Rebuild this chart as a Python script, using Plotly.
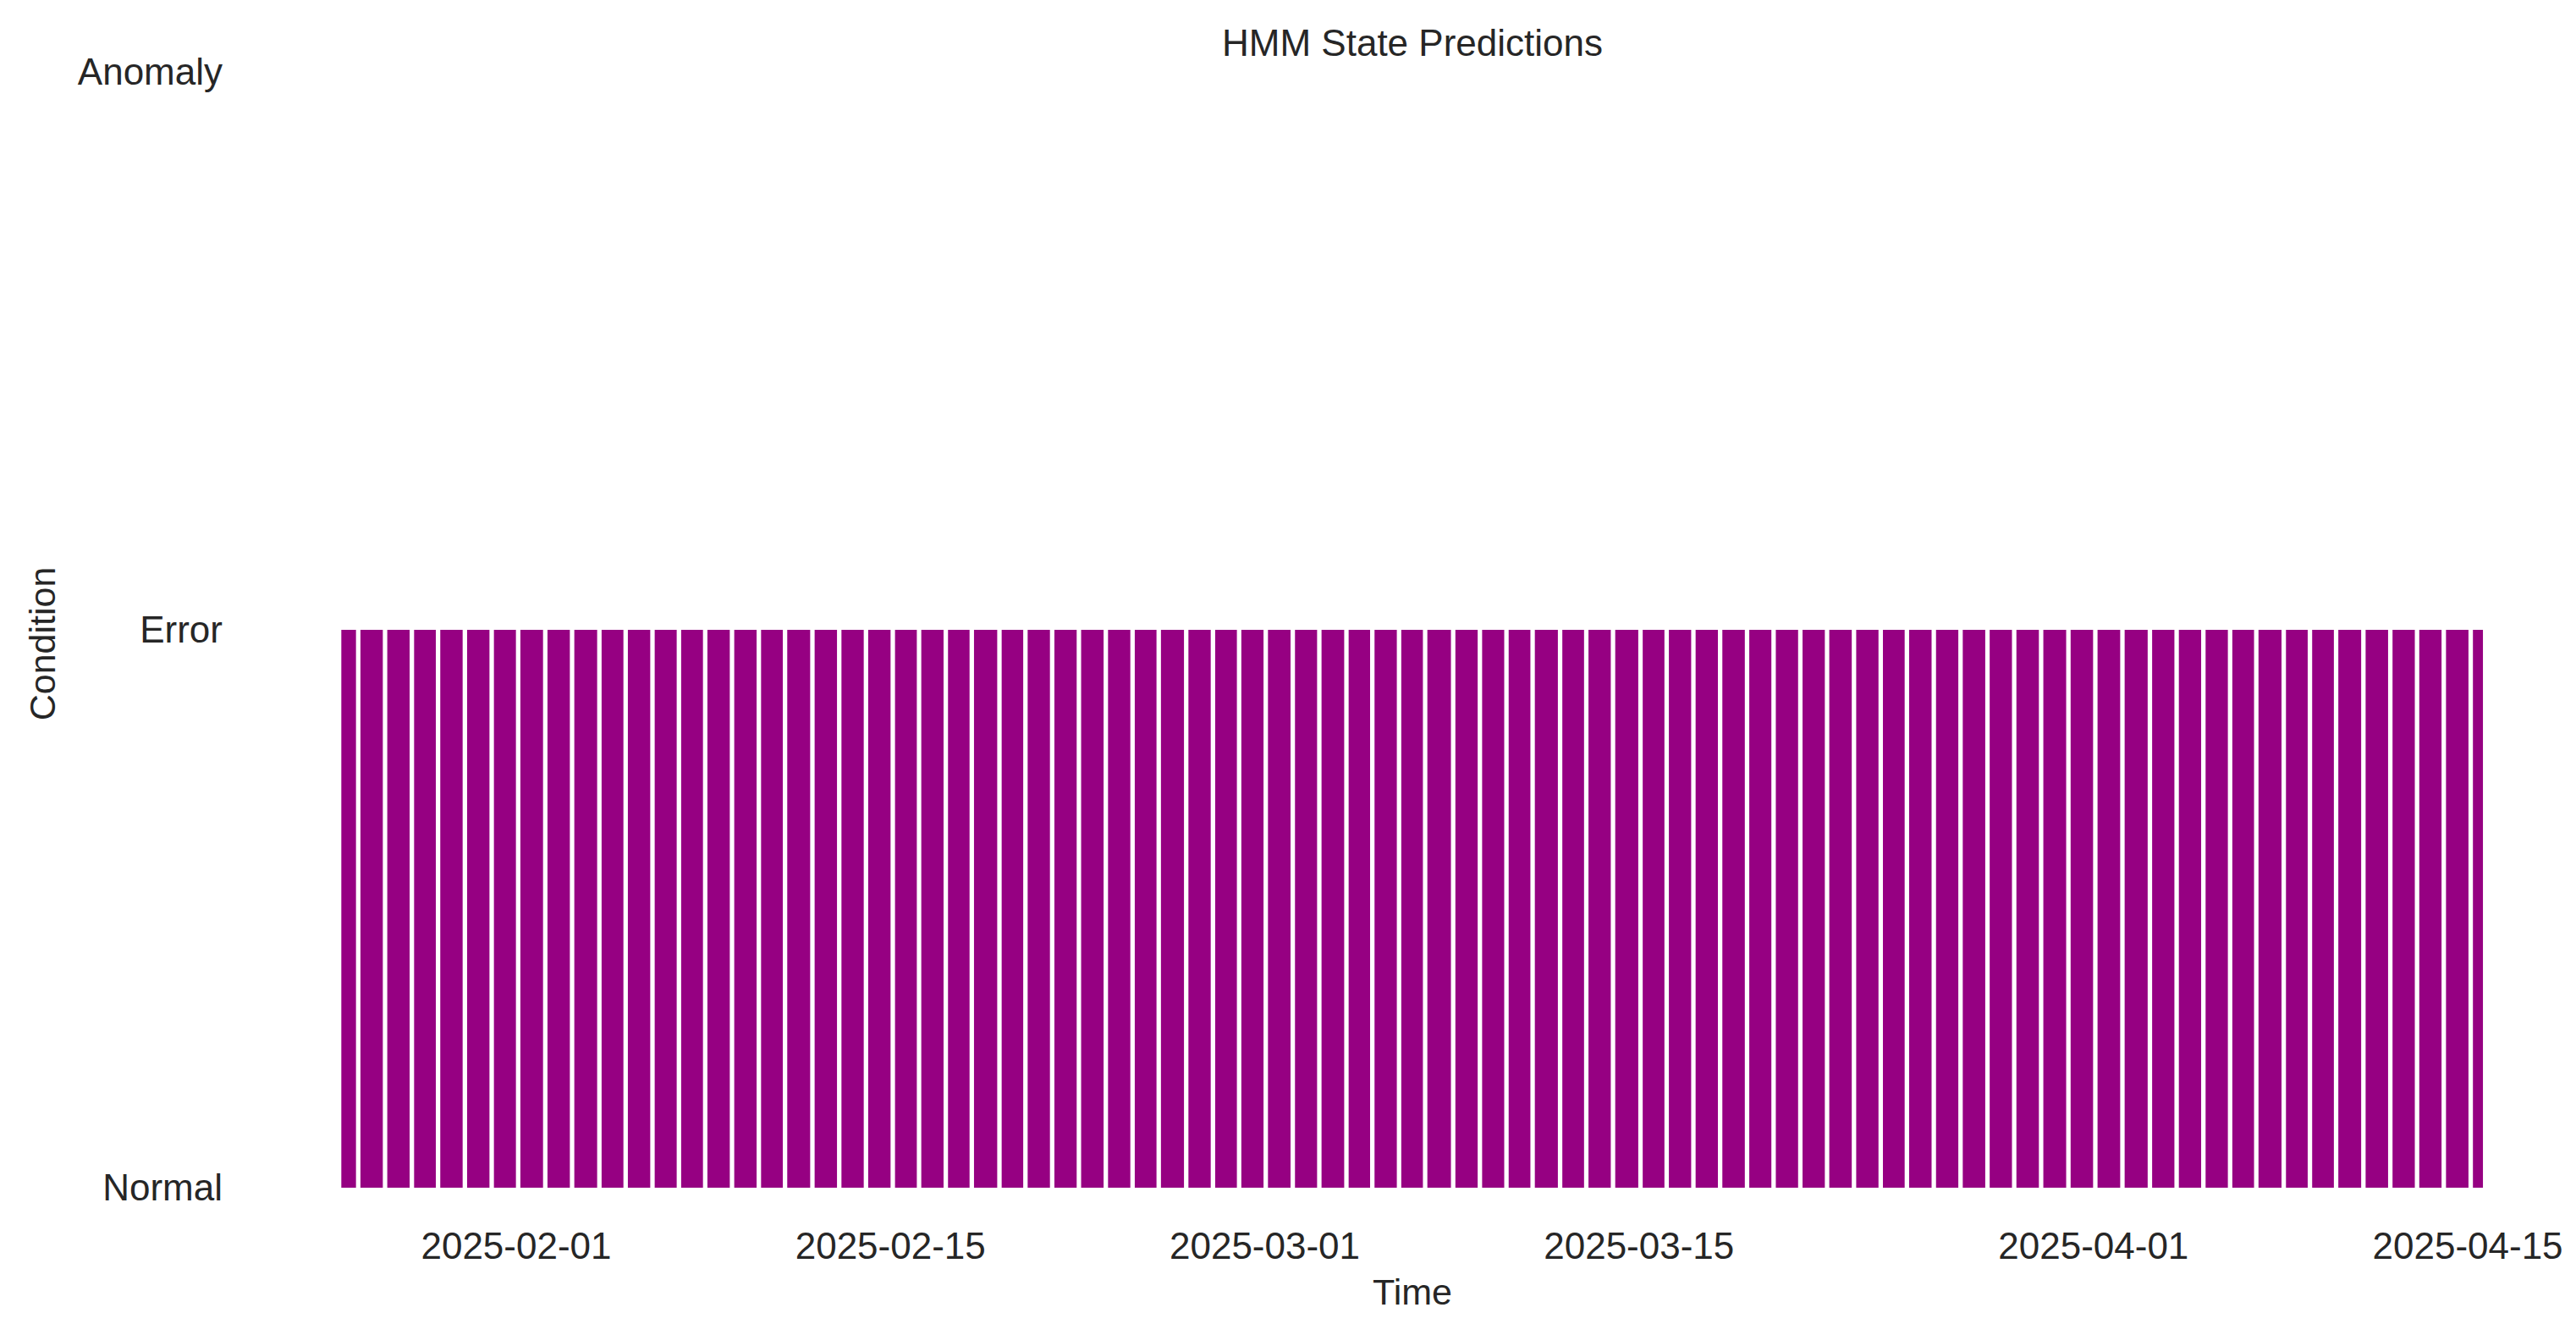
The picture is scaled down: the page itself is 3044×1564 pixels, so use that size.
import plotly.graph_objects as go

# HMM predicted condition over time: 1 = Error, 0 = Normal (2 = Anomaly never occurs)
first_time = "2025-01-25 11:00"
last_time = "2025-04-15 13:40"

# short Normal stretches around each night
normal_start = [
    "2025-01-26 00:10", "2025-01-27 00:15", "2025-01-28 00:20", "2025-01-28 23:50",
    "2025-01-29 23:55", "2025-01-31 00:00", "2025-01-31 23:45", "2025-02-02 00:05",
    "2025-02-03 00:10", "2025-02-04 00:40", "2025-02-05 00:15", "2025-02-06 00:20",
    "2025-02-07 00:05", "2025-02-07 23:40", "2025-02-08 23:45", "2025-02-09 23:50",
    "2025-02-10 23:20", "2025-02-11 23:55", "2025-02-13 00:00", "2025-02-14 00:00",
    "2025-02-15 00:05", "2025-02-15 23:40", "2025-02-16 23:40", "2025-02-17 23:00",
    "2025-02-18 23:50", "2025-02-19 23:10", "2025-02-20 23:10", "2025-02-21 23:10",
    "2025-02-22 23:20", "2025-02-23 23:20", "2025-02-24 22:50", "2025-02-25 23:30",
    "2025-02-26 23:30", "2025-02-27 23:00", "2025-02-28 22:55", "2025-03-01 23:10",
    "2025-03-02 23:00", "2025-03-03 23:20", "2025-03-04 22:35", "2025-03-05 22:35",
    "2025-03-06 22:00", "2025-03-07 23:10", "2025-03-08 23:10", "2025-03-09 23:00",
    "2025-03-10 22:30", "2025-03-11 23:10", "2025-03-12 22:40", "2025-03-13 22:40",
    "2025-03-14 23:20", "2025-03-15 22:50", "2025-03-16 22:50", "2025-03-17 22:50",
    "2025-03-18 23:00", "2025-03-19 22:50", "2025-03-20 22:50", "2025-03-21 22:50",
    "2025-03-22 23:00", "2025-03-23 23:00", "2025-03-24 22:30", "2025-03-25 22:40",
    "2025-03-26 22:40", "2025-03-27 22:50", "2025-03-28 22:50", "2025-03-29 23:00",
    "2025-03-30 23:30", "2025-03-31 23:40", "2025-04-02 00:00", "2025-04-03 00:40",
    "2025-04-04 00:40", "2025-04-05 00:40", "2025-04-06 00:40", "2025-04-07 00:10",
    "2025-04-08 00:50", "2025-04-09 00:20", "2025-04-09 23:50", "2025-04-11 00:20",
    "2025-04-12 00:30", "2025-04-13 00:30", "2025-04-14 00:30", "2025-04-15 00:40",
]
normal_end = [
    "2025-01-26 04:10", "2025-01-27 04:15", "2025-01-28 04:20", "2025-01-29 03:50",
    "2025-01-30 03:55", "2025-01-31 04:00", "2025-02-01 03:45", "2025-02-02 04:05",
    "2025-02-03 04:10", "2025-02-04 04:40", "2025-02-05 04:15", "2025-02-06 04:20",
    "2025-02-07 04:05", "2025-02-08 03:40", "2025-02-09 03:45", "2025-02-10 03:50",
    "2025-02-11 03:20", "2025-02-12 03:55", "2025-02-13 04:00", "2025-02-14 04:00",
    "2025-02-15 04:05", "2025-02-16 03:40", "2025-02-17 03:40", "2025-02-18 03:00",
    "2025-02-19 03:50", "2025-02-20 03:10", "2025-02-21 03:10", "2025-02-22 03:10",
    "2025-02-23 03:20", "2025-02-24 03:20", "2025-02-25 02:50", "2025-02-26 03:30",
    "2025-02-27 03:30", "2025-02-28 03:00", "2025-03-01 02:55", "2025-03-02 03:10",
    "2025-03-03 03:00", "2025-03-04 03:20", "2025-03-05 02:35", "2025-03-06 02:35",
    "2025-03-07 02:00", "2025-03-08 03:10", "2025-03-09 03:10", "2025-03-10 03:00",
    "2025-03-11 02:30", "2025-03-12 03:10", "2025-03-13 02:40", "2025-03-14 02:40",
    "2025-03-15 03:20", "2025-03-16 02:50", "2025-03-17 02:50", "2025-03-18 02:50",
    "2025-03-19 03:00", "2025-03-20 02:50", "2025-03-21 02:50", "2025-03-22 02:50",
    "2025-03-23 03:00", "2025-03-24 03:00", "2025-03-25 02:30", "2025-03-26 02:40",
    "2025-03-27 02:40", "2025-03-28 02:50", "2025-03-29 02:50", "2025-03-30 03:00",
    "2025-03-31 03:30", "2025-04-01 03:40", "2025-04-02 04:00", "2025-04-03 04:40",
    "2025-04-04 04:40", "2025-04-05 04:40", "2025-04-06 04:40", "2025-04-07 04:10",
    "2025-04-08 04:50", "2025-04-09 04:20", "2025-04-10 03:50", "2025-04-11 04:20",
    "2025-04-12 04:30", "2025-04-13 04:30", "2025-04-14 04:30", "2025-04-15 04:40",
]

state_labels = ["Normal", "Error", "Anomaly"]
date_ticks = ["2025-02-01", "2025-02-15", "2025-03-01", "2025-03-15", "2025-04-01", "2025-04-15"]

# state series as change points
times = [first_time]
states = [1]
for s, e in zip(normal_start, normal_end):
    times += [s, e]
    states += [0, 1]
times.append(last_time)
states.append(1)

purple = "#960082"
text_col = "#262626"
font_family = "Liberation Sans, Arial, sans-serif"

fig = go.Figure()
fig.add_trace(go.Scatter(
    x=times, y=states,
    mode="lines",
    line=dict(color=purple, width=0, shape="hv"),
    fill="tozeroy",
    fillcolor=purple,
    showlegend=False,
    hoverinfo="skip",
))

fig.update_layout(
    width=3044, height=1564,
    margin=dict(l=280, r=40, t=85, b=128),
    paper_bgcolor="white",
    plot_bgcolor="white",
    font=dict(family=font_family, size=44, color=text_col),
    title=dict(text="HMM State Predictions", x=1669 / 3044, xref="container", xanchor="center",
               y=1 - 51 / 1564, yref="container", yanchor="middle",
               font=dict(size=44, color=text_col)),
)
# x-axis title placed like the original (centred a bit right of the plot area)
fig.add_annotation(text="Time", xref="paper", yref="paper",
                   x=(1669 - 280) / 2724, y=-90 / 1351,
                   xanchor="center", yanchor="middle", showarrow=False,
                   font=dict(size=43, color=text_col))
fig.update_xaxes(
    range=["2025-01-21 13:18", "2025-04-17 18:49"],
    tickvals=date_ticks, ticktext=date_ticks,
    showgrid=False, zeroline=False, showline=False, ticks="",
    ticklabelstandoff=6,
)
fig.update_yaxes(
    range=[-0.05, 2],
    tickvals=[0, 1, 2], ticktext=state_labels,
    showgrid=False, zeroline=False, showline=False, ticks="",
    ticklabelstandoff=16,
    title=dict(text="Condition", standoff=12, font=dict(size=43)),
)

fig.write_html("out.html", config={"displayModeBar": False},
               post_script="document.body.style.margin='0';")
